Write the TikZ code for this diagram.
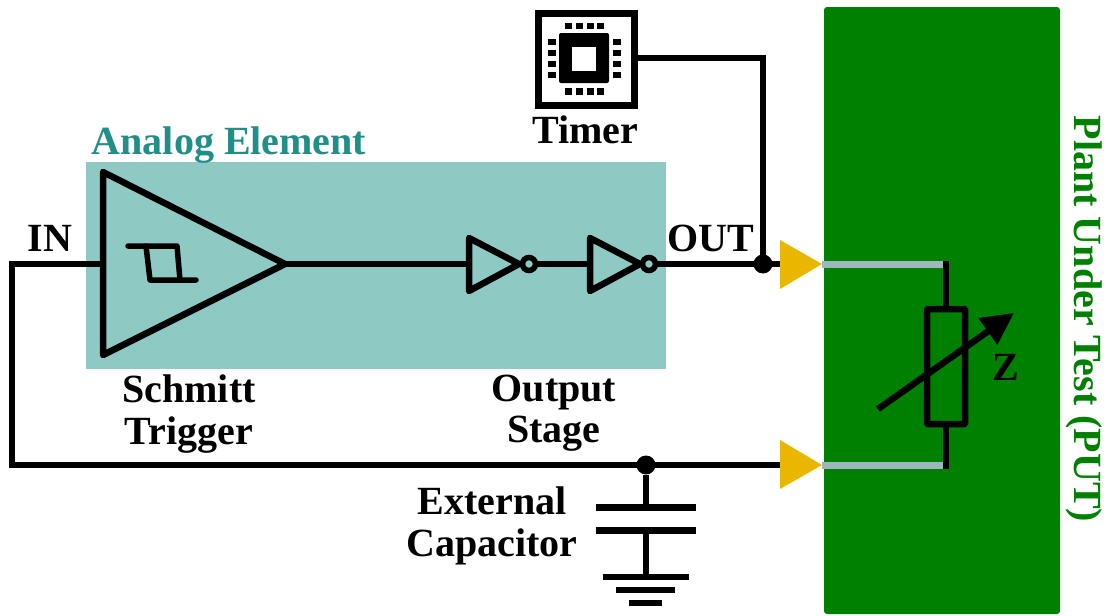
\documentclass[tikz,border=0pt]{standalone}
\usepackage{fontspec}
\setmainfont{Liberation Serif}
\usepackage{xcolor}
\usetikzlibrary{arrows.meta}
\usetikzlibrary{calc}
\definecolor{analogfill}{HTML}{8FC9C4}
\definecolor{analogtext}{HTML}{1F8F88}
\definecolor{plantgreen}{HTML}{008000}
\definecolor{padyellow}{HTML}{E9B600}
\definecolor{bondgray}{HTML}{9DB7BD}
\tikzset{
  % Common styles for the circuit
  wire/.style={draw, line width=6pt},
  sym/.style={draw, line width=6.5pt, line join=round},
  pad/.style={fill=padyellow},
  bond/.style={draw=bondgray, line width=7pt},
  dot/.style={circle, fill=black, minimum size=19pt, inner sep=0pt, outer sep=0pt},
  bubble/.style={circle, draw, line width=5.5pt, minimum size=13pt, inner sep=0pt, outer sep=0pt},
  region/.style={rectangle, inner sep=0pt, outer sep=0pt},
  pin/.style={fill=black},
  plate/.style={draw, line width=7pt},
  label/.style={font=\fontsize{40}{41.5}\selectfont\bfseries, align=center, inner sep=0pt}
}

\begin{document}
\begin{tikzpicture}[x=1pt,y=-1pt]
        \useasboundingbox (0,0) rectangle (1109,616);

        % Define regions
        \node[region, fill=analogfill, minimum width=580pt, minimum height=207pt] (analog) at (376,265.5) {};
        \node[region, fill=plantgreen, rounded corners=3pt, minimum width=236pt, minimum height=607pt] (plant) at (942,310.5) {};

        % Define points of the circuit
        \coordinate (in) at (12,264);
        \coordinate (corner) at (12,465);
        \coordinate (stin) at (103,264);
        \coordinate (stout) at (285,264);
        \coordinate (inva) at (469,264);
        \coordinate (invb) at (590,264);
        \coordinate (pada) at (780,264);
        \coordinate (padb) at (780,465);
        \coordinate (tipa) at (822,264);
        \coordinate (tipb) at (822,465);
        \coordinate (enda) at (946,264);
        \coordinate (endb) at (946,465);
        \coordinate (bend) at (763,58);
        \coordinate (capa) at (646,507);
        \coordinate (capb) at (646,530);
        \coordinate (gnd) at (646,577);

        % Define nodes
        \node[bubble] (buba) at (529,264) {};
        \node[bubble] (bubb) at (649,264) {};
        \node[dot] (outdot) at (763,264) {};
        \node[dot] (capdot) at (646,465) {};
        \node[region, draw, line width=7pt, minimum width=96pt, minimum height=92pt] (timer) at (586,59) {};
        \node[region, fill=black, rounded corners=2pt, minimum width=50pt, minimum height=50pt] (chip) at (584,58) {};
        \node[region, fill=white, minimum width=24pt, minimum height=24pt] (die) at (584,59) {};
        \node[region, draw, line width=6.5pt, rounded corners=1pt, minimum width=38pt, minimum height=115pt] (res) at (946,366.5) {};

        % Define connections
        \draw[wire] (stin) -- (in) -- (corner) -- (padb);
        \draw[wire] (stout) -- (inva);
        \draw[wire] (buba) -- (invb);
        \draw[wire] (bubb) -- (pada);
        \draw[wire] (timer.east |- chip) -- (bend) -- (outdot);
        \draw[wire] (capdot) -- (capa);
        \draw[wire] (capb) -- (gnd);
        \draw[bond] (tipa) -- (enda);
        \draw[bond] (tipb) -- (endb);
        \draw[wire] ($(enda)+(0,-3.5)$) -- (res.north);
        \draw[wire] (res.south) -- ($(endb)+(0,3.5)$);

        % Schmitt trigger
        \draw[sym] (stin |- 0,172) -- (stout) -- (stin |- 0,355) -- cycle;
        \draw[line width=5.5pt, line join=round, line cap=round] (128,246) -- (177,246) -- (180,280);
        \draw[line width=5.5pt, line join=round, line cap=round] (146,246) -- (150,280) -- (196,280);

        % Output stage
        \draw[sym] (469,238) -- (519,264) -- (469,291) -- cycle;
        \draw[sym] (590,238) -- (640,264) -- (590,291) -- cycle;

        % Pads
        \fill[pad] (780,240) -- (tipa) -- (780,289) -- cycle;
        \fill[pad] (780,440) -- (tipb) -- (780,489) -- cycle;

        % Timer pins
        \foreach \i in {565,576,586.5,597} {
            \fill[pin] (\i,23) rectangle ++(7,6);
            \fill[pin] (\i,88) rectangle ++(7,7);
        }
        \foreach \i in {39,50,61,72} {
            \fill[pin] (548,\i) rectangle ++(8,6);
            \fill[pin] (613,\i) rectangle ++(8,6);
        }

        % Capacitor and ground
        \draw[plate] (596,507) -- (696,507);
        \draw[plate] (596,530) -- (696,530);
        \draw[wire, line width=6.5pt] (603,577) -- (689,577);
        \draw[wire, line width=6.5pt] (616,590) -- (675,590);
        \draw[wire, line width=6.5pt] (629,603) -- (662,603);

        % Variable impedance arrow
        \draw[line width=6.5pt, -{Triangle[length=32pt, width=31pt]}] (878,409) -- (1014,313);

        % Define labels
        \node[label, text=analogtext] (analoglabel) at (229,145) {Analog Element};
        \node[label] (timerlabel) at (585,130) {Timer};
        \node[label] (inlabel) at (50,238) {IN};
        \node[label] (outlabel) at (711,238) {OUT};
        \node[label] (stlabel) at (189,414) {Schmitt\\Trigger};
        \node[label] (oslabel) at (554,413) {Output\\Stage};
        \node[label] (caplabel) at (492,526) {External\\Capacitor};
        \node[label] (zlabel) at (1006,367) {Z};
        \node[label, text=plantgreen, rotate=-90] (plantlabel) at (1084,319) {Plant Under Test (PUT)};
    \end{tikzpicture}
\end{document}
